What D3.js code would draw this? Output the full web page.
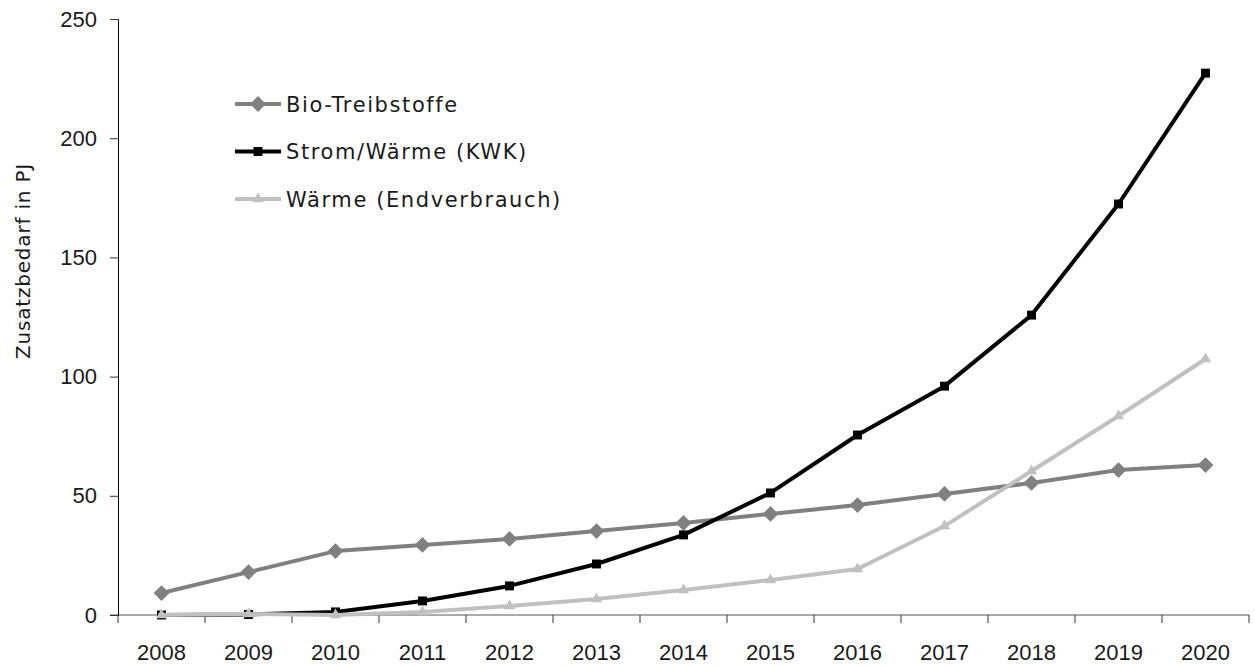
<!DOCTYPE html>
<html>
<head>
<meta charset="utf-8">
<script src="https://cdn.jsdelivr.net/npm/d3@7"></script>
<style>
body { margin: 0; background: #fff; }
text { font-family: "DejaVu Sans", sans-serif; fill: #1a1a1a; }
</style>
</head>
<body>
<div id="chart"></div>
<script>
var years = ["2008","2009","2010","2011","2012","2013","2014","2015","2016","2017","2018","2019","2020"];
var bioValues = [9.2, 18, 26.8, 29.4, 31.9, 35.2, 38.6, 42.4, 46.1, 50.8, 55.4, 60.8, 62.9];
var kwkValues = [0, 0.2, 1.3, 5.9, 12.2, 21.4, 33.6, 51.2, 75.5, 96, 125.8, 172.4, 227.3];
var waermeValues = [0, 0.4, 0, 1.3, 3.8, 6.7, 10.5, 14.7, 19.3, 37.3, 60.4, 83.5, 107.4];
var seriesNames = ["Bio-Treibstoffe", "Strom/Wärme (KWK)", "Wärme (Endverbrauch)"];
var yTicks = [0, 50, 100, 150, 200, 250];

var width = 1255,
height = 666;

var svg = d3.select("#chart")
.append("svg")
.attr("width", width)
.attr("height", height);

var xScale = d3.scaleBand()
.domain(years)
.range([118, 1249])
.padding(0);

var yScale = d3.scaleLinear()
.domain([0, 250])
.range([615, 19]);

// x axis: ticks sit on the band edges
var xg = svg.append("g");
xg.append("line")
.attr("x1", 110).attr("x2", 1249)
.attr("y1", yScale(0)).attr("y2", yScale(0))
.attr("stroke", "#555").attr("stroke-width", 1);
var edges = years.map(function(d) { return xScale(d); }).concat([xScale.range()[1]]);
xg.selectAll(".tk").data(edges).enter().append("line")
.attr("x1", function(d) { return d; }).attr("x2", function(d) { return d; })
.attr("y1", yScale(0)).attr("y2", yScale(0) + 8)
.attr("stroke", "#333");
xg.selectAll(".lbl").data(years).enter().append("text")
.attr("x", function(d) { return xScale(d) + xScale.bandwidth() / 2; })
.attr("y", 660)
.attr("text-anchor", "middle")
.style("font-family", "'Liberation Sans', sans-serif")
.style("font-size", "22px")
.text(function(d) { return d; });

// y axis
var yAxis = d3.axisLeft(yScale)
.tickValues(yTicks)
.tickSize(8)
.tickPadding(13);

var yg = svg.append("g")
.attr("transform", "translate(118,0)")
.call(yAxis);
yg.select(".domain").attr("stroke", "#000");
yg.selectAll(".tick line").attr("stroke", "#333");
yg.selectAll(".tick text")
.style("font-family", "'Liberation Sans', sans-serif")
.style("font-size", "22px")
.attr("fill", "#1a1a1a");

svg.append("text")
.attr("transform", "translate(30,261) rotate(-90)")
.attr("text-anchor", "middle")
.style("font-size", "20px")
.style("letter-spacing", "0.8px")
.text("Zusatzbedarf in PJ");

var series = [
  { name: seriesNames[0], values: bioValues, color: "#808080", symbol: d3.symbolSquare, size: 125, rot: 45 },
  { name: seriesNames[1], values: kwkValues, color: "#000000", symbol: d3.symbolSquare, size: 80, rot: 0 },
  { name: seriesNames[2], values: waermeValues, color: "#c0c0c0", symbol: d3.symbolTriangle, size: 55, rot: 0 }
];

var line = d3.line()
.x(function(d, i) { return xScale(years[i]) + xScale.bandwidth() / 2; })
.y(function(d) { return yScale(d); });

series.forEach(function(s, k) {
  svg.append("path")
  .datum(s.values)
  .attr("d", line)
  .attr("fill", "none")
  .attr("stroke", s.color)
  .attr("stroke-width", 4)
  .attr("stroke-linejoin", "round");

  svg.selectAll(".m" + k).data(s.values).enter().append("path")
  .attr("d", d3.symbol().type(s.symbol).size(s.size))
  .attr("transform", function(d, i) {
    return "translate(" + (xScale(years[i]) + xScale.bandwidth() / 2) + "," + yScale(d) + ") rotate(" + s.rot + ")";
  })
  .attr("fill", s.color);
});

// legend
var legend = svg.append("g");
series.forEach(function(s, i) {
  var ly = 104 + i * 47.5;
  legend.append("line")
  .attr("x1", 235).attr("x2", 281)
  .attr("y1", ly).attr("y2", ly)
  .attr("stroke", s.color).attr("stroke-width", 4);
  legend.append("path")
  .attr("d", d3.symbol().type(s.symbol).size(s.size))
  .attr("transform", "translate(258," + ly + ") rotate(" + s.rot + ")")
  .attr("fill", s.color);
  legend.append("text")
  .attr("x", 286).attr("y", ly)
  .attr("dy", "0.36em")
  .style("font-size", "21px")
  .style("letter-spacing", "1.6px")
  .text(s.name);
});
</script>
</body>
</html>
